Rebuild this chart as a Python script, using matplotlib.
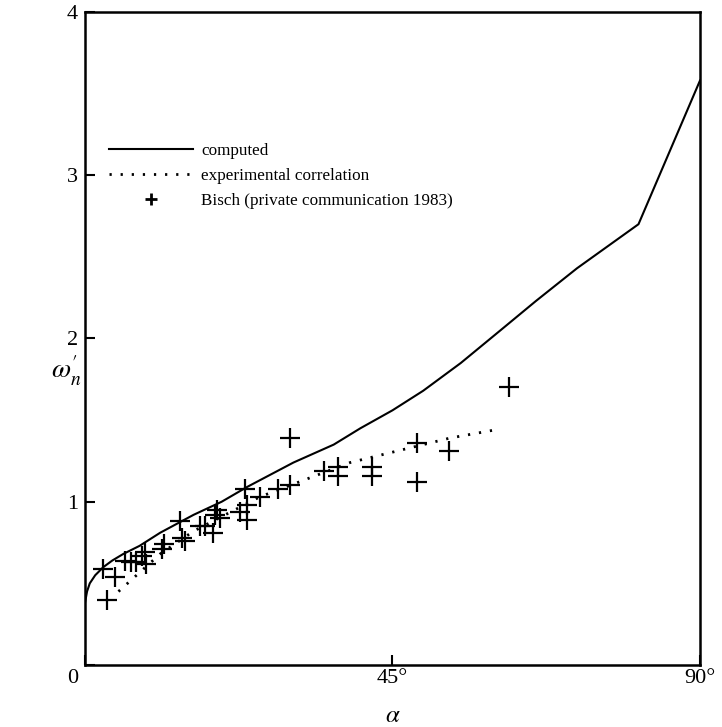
import matplotlib
matplotlib.use("Agg")
import matplotlib.pyplot as plt
from matplotlib.lines import Line2D
from matplotlib.transforms import ScaledTranslation

plt.rcParams['font.family'] = ['Liberation Serif', 'DejaVu Serif']
plt.rcParams['mathtext.fontset'] = 'stix'

# computed curve
comp_alpha = [0.0, 0.3, 0.7, 1.5, 2.7, 4.0, 5.6, 8.0, 11.0, 15.9, 20.0, 23.7, 30.5, 36.4, 40.3, 45.0, 49.5, 55.0, 60.8, 66.0, 72.0, 76.0, 81.0, 90.0]
comp_omega = [0.38, 0.45, 0.50, 0.55, 0.60, 0.64, 0.68, 0.73, 0.81, 0.92, 1.00, 1.09, 1.24, 1.35, 1.45, 1.56, 1.68, 1.85, 2.05, 2.23, 2.43, 2.55, 2.70, 3.58]

# experimental correlation
corr_alpha = [4.9, 11.0, 15.9, 25.6, 38.8, 53.4, 60.0]
corr_omega = [0.45, 0.68, 0.82, 1.03, 1.24, 1.39, 1.44]

# Bisch data
bisch_alpha = [2.7, 4.4, 3.2, 5.9, 6.8, 7.5, 8.3, 8.8, 9.0, 11.2, 11.6, 13.9, 14.2, 14.6, 16.8, 17.6, 18.8, 19.0, 19.3, 19.8,
               22.7, 23.4, 23.7, 23.7, 25.6, 28.3, 30.0, 30.0, 35.0, 37.1, 37.1, 42.0, 42.0, 48.6, 48.6, 53.2, 62.0]
bisch_omega = [0.59, 0.54, 0.40, 0.64, 0.63, 0.63, 0.67, 0.69, 0.62, 0.71, 0.74, 0.88, 0.78, 0.76, 0.85, 0.85, 0.81, 0.92, 0.95, 0.90,
               0.94, 1.08, 0.98, 0.89, 1.03, 1.08, 1.10, 1.39, 1.19, 1.21, 1.16, 1.21, 1.16, 1.36, 1.12, 1.31, 1.70]

xticks = [0, 45, 90]
xticklabels = ['0', '45°', '90°']
yticks = [0, 1, 2, 3, 4]
yticklabels = ['', '1', '2', '3', '4']

fig = plt.figure(figsize=(7.22, 7.27), dpi=100)
ax = fig.add_axes([0.1177, 0.0853, 0.8518, 0.8982])

dots = (0, (0.8, 3.2))
ax.plot(comp_alpha, comp_omega, color='black', lw=1.5)
ax.plot(corr_alpha, corr_omega, color='black', lw=2.0, linestyle=dots)
ax.plot(bisch_alpha, bisch_omega, linestyle='none', marker='+', markersize=15, markeredgewidth=1.6, color='black')

ax.set_xlim(0, 90)
ax.set_ylim(0, 4)
ax.set_xticks(xticks)
ax.set_xticklabels(xticklabels, fontsize=16)
ax.set_yticks(yticks)
ax.set_yticklabels(yticklabels, fontsize=16)
ax.tick_params(direction='in', length=7, width=1.5, pad=5)
ax.tick_params(axis='x', pad=3)
for s in ax.spines.values():
    s.set_linewidth(1.8)

# origin "0" label sits left of the corner, below it
lbl0 = ax.get_xticklabels()[0]
lbl0.set_transform(lbl0.get_transform() + ScaledTranslation(-9 / 72, 0, fig.dpi_scale_trans))

ax.set_xlabel(r'$\alpha$', fontsize=18, labelpad=12)
ax.set_ylabel(r"$\omega_n^{\prime}$", fontsize=20, rotation=0, ha='center', va='center')
ax.yaxis.set_label_coords(-0.03, 0.45)

handles = [Line2D([], [], color='black', lw=1.5),
           Line2D([], [], color='black', lw=2.0, linestyle=dots),
           Line2D([], [], linestyle='none', marker='+', markersize=8, markeredgewidth=2, color='black')]
labels = ['computed', 'experimental correlation', 'Bisch (private communication 1983)']
ax.legend(handles, labels, loc='upper left', bbox_to_anchor=(0.02, 0.817), frameon=False,
          fontsize=12.3, handlelength=4.9, handletextpad=0.5, labelspacing=0.5, borderpad=0.2)

fig.savefig('out.png', dpi=100)
